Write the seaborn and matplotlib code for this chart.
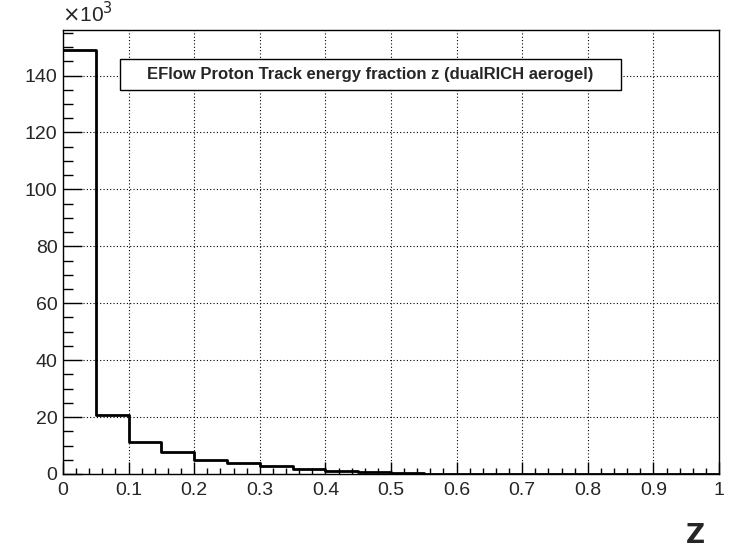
import numpy as np
import pandas as pd
import seaborn as sns
import matplotlib.pyplot as plt
from matplotlib.patches import Rectangle
from matplotlib.ticker import MultipleLocator, FuncFormatter

# energy fraction z: 20 bins of width 0.05, counts per bin (in thousands)
n_bins = 20
z_range = (0, 1)
counts_k = [149.0, 20.6, 11.3, 7.6, 4.9, 3.8, 2.8, 1.8, 1.0, 0.6,
            0.3, 0.0, 0.0, 0.0, 0.0, 0.0, 0.0, 0.0, 0.0, 0.0]
title = "EFlow Proton Track energy fraction z (dualRICH aerogel)"

sns.set_style("ticks")
plt.rcParams['font.family'] = ['Liberation Sans', 'DejaVu Sans']

edges = np.linspace(z_range[0], z_range[1], n_bins + 1)
df = pd.DataFrame({
    "z": (edges[:-1] + edges[1:]) / 2,
    "n": np.array(counts_k) * 1000,
})

fig = plt.figure(figsize=(7.4, 5.5), dpi=100)
ax = fig.add_axes([63 / 740, 1 - 474 / 550, (719 - 63) / 740, (474 - 30) / 550])

sns.histplot(data=df, x="z", weights="n", bins=n_bins, binrange=z_range,
             element="step", fill=False, color="black", linewidth=2, ax=ax)

ax.set_xlim(0, 1)
ax.set_ylim(0, 156000)
ax.set_xlabel("")
ax.set_ylabel("")

ax.xaxis.set_major_locator(MultipleLocator(0.1))
ax.xaxis.set_minor_locator(MultipleLocator(0.02))
ax.yaxis.set_major_locator(MultipleLocator(20000))
ax.yaxis.set_minor_locator(MultipleLocator(5000))
ax.xaxis.set_major_formatter(FuncFormatter(lambda v, p: f"{v:g}"))
ax.yaxis.set_major_formatter(FuncFormatter(lambda v, p: f"{v/1000:g}"))

ax.tick_params(axis="both", which="both", direction="in", labelsize=14,
               color="black", width=1)
ax.tick_params(axis="x", which="major", length=9, pad=6)
ax.tick_params(axis="x", which="minor", length=4.5)
ax.tick_params(axis="y", which="major", length=14, pad=4)
ax.tick_params(axis="y", which="minor", length=7)

ax.grid(True, which="major", linestyle=(0, (1, 2)), color="black", linewidth=0.8)
ax.set_axisbelow(True)
for s in ax.spines.values():
    s.set_color("black")
    s.set_linewidth(1)

# title box, ROOT style
box = Rectangle(((120 - 63) / 656, (474 - 90) / 444), (621 - 120) / 656, 31 / 444,
                transform=ax.transAxes, facecolor="white", edgecolor="black",
                linewidth=1, zorder=5)
ax.add_patch(box)
ax.text((370 - 63) / 656, (474 - 74.5) / 444, title, transform=ax.transAxes,
        ha="center", va="center", fontsize=12, fontweight="bold", zorder=6)

fig.text(62 / 740, 1 - 14 / 550, r"$\times$10$^{3}$", fontsize=15,
         ha="left", va="center")
fig.text(695 / 740, 1 - 536 / 550, "Z", fontsize=19, fontweight="bold",
         ha="center", va="center", family=["DejaVu Sans"])

fig.savefig("out.png", dpi=100)
